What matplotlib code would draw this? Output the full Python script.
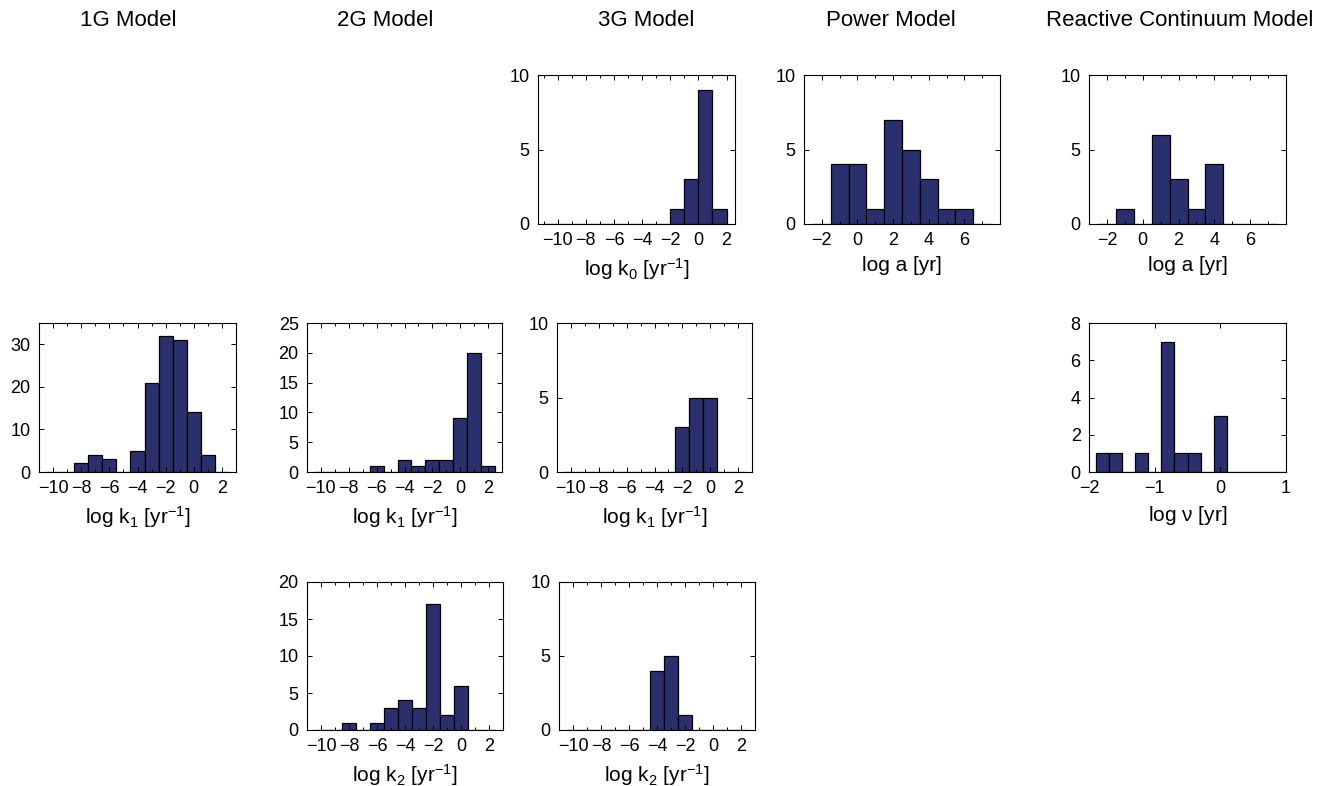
import numpy as np
import matplotlib
matplotlib.use('Agg')
import matplotlib.pyplot as plt
from matplotlib.ticker import MultipleLocator

plt.rcParams['font.family'] = ['Liberation Sans', 'DejaVu Sans']
plt.rcParams['mathtext.fontset'] = 'custom'
plt.rcParams['mathtext.rm'] = 'Liberation Sans'
plt.rcParams['mathtext.it'] = 'Liberation Sans'
plt.rcParams['font.size'] = 13

# histogram bin centres and counts
k_centers = np.arange(-10, 3)
k0_centers = np.arange(-10.5, 2)
g1_k1 = [0, 0, 2, 4, 3, 0, 5, 21, 32, 31, 14, 4, 0]
g2_k1 = [0, 0, 0, 0, 1, 0, 2, 1, 2, 2, 9, 20, 1]
g2_k2 = [0, 0, 1, 0, 1, 3, 4, 3, 17, 2, 6, 0, 0]
g3_k0 = [0, 0, 0, 0, 0, 0, 0, 0, 0, 1, 3, 9, 1]
g3_k1 = [0, 0, 0, 0, 0, 0, 0, 0, 3, 5, 5, 0, 0]
g3_k2 = [0, 0, 0, 0, 0, 0, 4, 5, 1, 0, 0, 0, 0]

a_centers = np.arange(-2, 8)
power_a = [0, 4, 4, 1, 7, 5, 3, 1, 1, 0]
rcm_a = [0, 1, 0, 6, 3, 1, 4, 0, 0, 0]

nu_centers = np.round(np.arange(-1.8, 1.01, 0.2), 1)
rcm_nu = [1, 1, 0, 1, 0, 7, 1, 1, 0, 3, 0, 0, 0, 0, 0]

titles = ['1G Model', '2G Model', '3G Model', 'Power Model', 'Reactive Continuum Model']
title_x = [128, 385, 646, 891, 1180]

lbl_k0 = r'log k$_0$ [yr$^{-1}$]'
lbl_k1 = r'log k$_1$ [yr$^{-1}$]'
lbl_k2 = r'log k$_2$ [yr$^{-1}$]'

bar_color = '#2a2f6e'
W, H = 1330, 786

fig = plt.figure(figsize=(W / 100, H / 100), dpi=100)


def panel(x0, x1, y0, y1, centers, counts, width, xlim, xticks, xminor,
          ylim, ystep, xlabel):
    ax = fig.add_axes([x0 / W, 1 - y1 / H, (x1 - x0) / W, (y1 - y0) / H])
    ax.bar(centers, counts, width=width, color=bar_color, edgecolor='black',
           linewidth=0.9)
    ax.set_xlim(*xlim)
    ax.set_ylim(*ylim)
    ax.set_xticks(xticks)
    if xminor:
        ax.xaxis.set_minor_locator(MultipleLocator(xminor))
    ax.yaxis.set_major_locator(MultipleLocator(ystep))
    ax.tick_params(which='both', direction='in', top=True, right=True,
                   labelsize=13, pad=6)
    ax.tick_params(which='major', length=3.5, width=0.7)
    ax.tick_params(which='minor', length=2.5, width=0.7)
    for s in ax.spines.values():
        s.set_linewidth(0.8)
    ax.set_xlabel(xlabel, fontsize=15, labelpad=5)
    return ax


kt = [-10, -8, -6, -4, -2, 0, 2]
at = [-2, 0, 2, 4, 6]

# top row
panel(538, 735, 75, 224, k0_centers, g3_k0, 1.0, (-11.4, 2.6), kt, 1, (0, 10), 5, lbl_k0)
panel(804, 1000, 75, 224, a_centers, power_a, 1.0, (-3, 8), at, 1, (0, 10), 5, 'log a [yr]')
panel(1089, 1286, 75, 224, a_centers, rcm_a, 1.0, (-3, 8), at, 1, (0, 10), 5, 'log a [yr]')

# middle row
panel(39, 236, 323, 472, k_centers, g1_k1, 1.0, (-11, 3), kt, 1, (0, 35), 10, lbl_k1)
panel(307, 502, 323, 472, k_centers, g2_k1, 1.0, (-11, 3), kt, 1, (0, 25), 5, lbl_k1)
panel(557, 752, 323, 472, k_centers, g3_k1, 1.0, (-11, 3), kt, 1, (0, 10), 5, lbl_k1)
panel(1089, 1286, 323, 472, nu_centers, rcm_nu, 0.2, (-2, 1), [-2, -1, 0, 1], None,
      (0, 8), 2, r'log $\nu$ [yr]')

# bottom row
panel(307, 503, 582, 730, k_centers, g2_k2, 1.0, (-11, 3), kt, 1, (0, 20), 5, lbl_k2)
panel(559, 755, 582, 730, k_centers, g3_k2, 1.0, (-11, 3), kt, 1, (0, 10), 5, lbl_k2)

for t, x in zip(titles, title_x):
    fig.text(x / W, 1 - 20 / H, t, ha='center', va='center', fontsize=16)

fig.savefig('out.png', dpi=100)
